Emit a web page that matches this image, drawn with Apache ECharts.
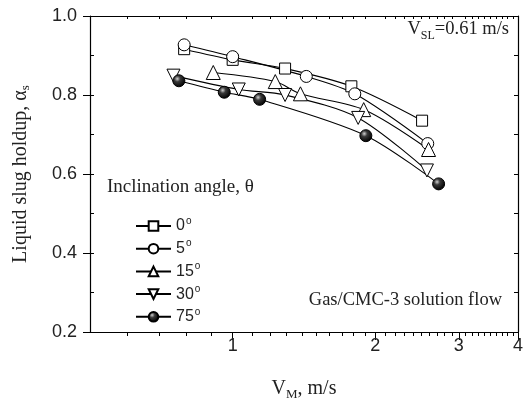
<!DOCTYPE html>
<html>
<head>
<meta charset="utf-8">
<script src="https://cdn.jsdelivr.net/npm/echarts@6/dist/echarts.min.js"></script>
<style>
  html, body { margin: 0; padding: 0; background: #fff; }
  #chart { width: 524px; height: 399px; }
</style>
</head>
<body>
<div id="chart"></div>
<script>
// V_M (m/s) and slug holdup for each inclination angle
const vm0 = [0.79, 1.00, 1.29, 1.78, 2.51];
const hold0 = [0.916, 0.889, 0.867, 0.822, 0.735];
const vm5 = [0.79, 1.00, 1.43, 1.81, 2.58];
const hold5 = [0.927, 0.897, 0.847, 0.803, 0.677];
const vm15 = [0.91, 1.23, 1.39, 1.89, 2.59];
const hold15 = [0.857, 0.834, 0.803, 0.763, 0.662];
const vm30 = [0.75, 1.03, 1.29, 1.84, 2.57];
const hold30 = [0.849, 0.814, 0.800, 0.742, 0.609];
const vm75 = [0.77, 0.96, 1.14, 1.91, 2.72];
const hold75 = [0.836, 0.807, 0.789, 0.697, 0.575];

const angles = ["0°", "5°", "15°", "30°", "75°"];
const xLabels = [1, 2, 3, 4];
const xMinor = [0.6, 0.7, 0.8, 0.9,
  1.1, 1.2, 1.3, 1.4, 1.5, 1.6, 1.7, 1.8, 1.9,
  2.1, 2.2, 2.3, 2.4, 2.5, 2.6, 2.7, 2.8, 2.9,
  3.1, 3.2, 3.3, 3.4, 3.5, 3.6, 3.7, 3.8, 3.9];

const pairs = (xs, ys) => xs.map((x, i) => [x, ys[i]]);

const ball = {
  type: "radial", x: 0.38, y: 0.35, r: 0.65,
  colorStops: [
    { offset: 0, color: "#d0d0d0" },
    { offset: 0.35, color: "#3a3a3a" },
    { offset: 1, color: "#000" },
  ],
};

const mk = (name, xs, ys, symbol, size, fill) => ({
  name,
  type: "line",
  data: pairs(xs, ys),
  smooth: 0.3,
  symbol,
  symbolSize: size,
  showAllSymbol: true,
  lineStyle: { color: "#000", width: 1.1 },
  itemStyle: { color: fill, borderColor: "#000", borderWidth: 1 },
  emphasis: { disabled: true },
  z: 3,
});

const chart = echarts.init(document.getElementById("chart"));
const sans = "Liberation Sans";
const serif = "Liberation Serif";

const option = {
  animation: false,
  grid: { left: 90, right: 6, top: 16, bottom: 67, outerBoundsMode: "none", containLabel: false },
  legend: {
    orient: "vertical",
    left: 130,
    top: 211,
    itemWidth: 35,
    itemHeight: 12,
    itemGap: 4.7,
    data: angles,
    formatter: (n) => "{n|" + n.replace("°", "") + "}{s|o}",
    textStyle: {
      fontFamily: sans,
      fontSize: 16,
      color: "#222",
      rich: {
        n: { fontFamily: sans, fontSize: 16, color: "#222" },
        s: { fontFamily: sans, fontSize: 10, color: "#222", padding: [0, 0, 10, 1] },
      },
    },
  },
  xAxis: [
    {
      type: "log",
      min: 0.5,
      max: 4,
      position: "bottom",
      name: "{v|V}{m|M}{v|, m/s}",
      nameLocation: "middle",
      nameGap: 44,
      nameTextStyle: {
        rich: {
          v: { fontFamily: serif, fontSize: 20, color: "#222" },
          m: { fontFamily: serif, fontSize: 13, color: "#222", padding: [12, 0, 0, 0] },
        },
      },
      axisLine: { lineStyle: { color: "#000", width: 1.2 } },
      axisTick: { customValues: xLabels, length: 8, lineStyle: { color: "#000" } },
      axisLabel: {
        customValues: xLabels,
        fontFamily: sans,
        fontSize: 18,
        color: "#222",
        margin: 5,
      },
      splitLine: { show: false },
    },
    {
      type: "log",
      min: 0.5,
      max: 4,
      position: "bottom",
      axisLine: { show: false },
      axisTick: { customValues: xMinor, length: 4, lineStyle: { color: "#000" } },
      axisLabel: { show: false },
      splitLine: { show: false },
    },
    {
      type: "log",
      min: 0.5,
      max: 4,
      position: "top",
      axisLine: { lineStyle: { color: "#000", width: 1.2 } },
      axisTick: { inside: true, customValues: xMinor, length: 3, lineStyle: { color: "#000" } },
      axisLabel: { show: false },
      splitLine: { show: false },
    },
  ],
  yAxis: [
    {
      type: "value",
      min: 0.2,
      max: 1.0,
      interval: 0.2,
      position: "left",
      name: "{t|Liquid slug holdup, α}{s|s}",
      nameLocation: "middle",
      nameGap: 58,
      nameRotate: 90,
      nameTextStyle: {
        rich: {
          t: { fontFamily: serif, fontSize: 20, color: "#222" },
          s: { fontFamily: serif, fontSize: 13, color: "#222", padding: [10, 0, 0, 0] },
        },
      },
      axisLine: { show: true, lineStyle: { color: "#000", width: 1.2 } },
      axisTick: { show: true, length: 7, lineStyle: { color: "#000" } },
      axisLabel: {
        fontFamily: sans,
        fontSize: 18,
        color: "#222",
        margin: 13,
        formatter: (v) => v.toFixed(1),
      },
      splitLine: { show: false },
    },
    {
      type: "value",
      min: 0.2,
      max: 1.0,
      interval: 0.1,
      position: "left",
      axisLine: { show: false },
      axisTick: { show: true, inside: true, length: 4, lineStyle: { color: "#000" } },
      axisLabel: { show: false },
      splitLine: { show: false },
    },
    {
      type: "value",
      min: 0.2,
      max: 1.0,
      interval: 0.1,
      position: "right",
      axisLine: { show: true, lineStyle: { color: "#000", width: 1.2 } },
      axisTick: { show: true, inside: true, length: 4, lineStyle: { color: "#000" } },
      axisLabel: { show: false },
      splitLine: { show: false },
    },
  ],
  graphic: [
    {
      type: "text",
      left: 107,
      top: 178,
      style: { text: "Inclination angle, θ", font: "19px 'Liberation Serif'", fill: "#222" },
    },
    {
      type: "text",
      right: 15,
      top: 20,
      style: {
        text: "{v|V}{s|SL}{v|=0.61 m/s}",
        rich: {
          v: { fontFamily: serif, fontSize: 18.5, fill: "#222" },
          s: { fontFamily: serif, fontSize: 12, fill: "#222", padding: [12, 0, 0, 0] },
        },
      },
    },
    {
      type: "text",
      right: 22,
      top: 291,
      style: { text: "Gas/CMC-3 solution flow", font: "18.5px 'Liberation Serif'", fill: "#222" },
    },
  ],
  series: [
    mk(angles[0], vm0, hold0, "rect", 11, "#fff"),
    mk(angles[1], vm5, hold5, "circle", 12, "#fff"),
    mk(angles[2], vm15, hold15, "triangle", 14, "#fff"),
    mk(angles[3], vm30, hold30, "path://M0,0 L10,0 L5,9 Z", 13, "#fff"),
    mk(angles[4], vm75, hold75, "circle", 12, ball),
  ],
};

chart.setOption(option);
</script>
</body>
</html>
